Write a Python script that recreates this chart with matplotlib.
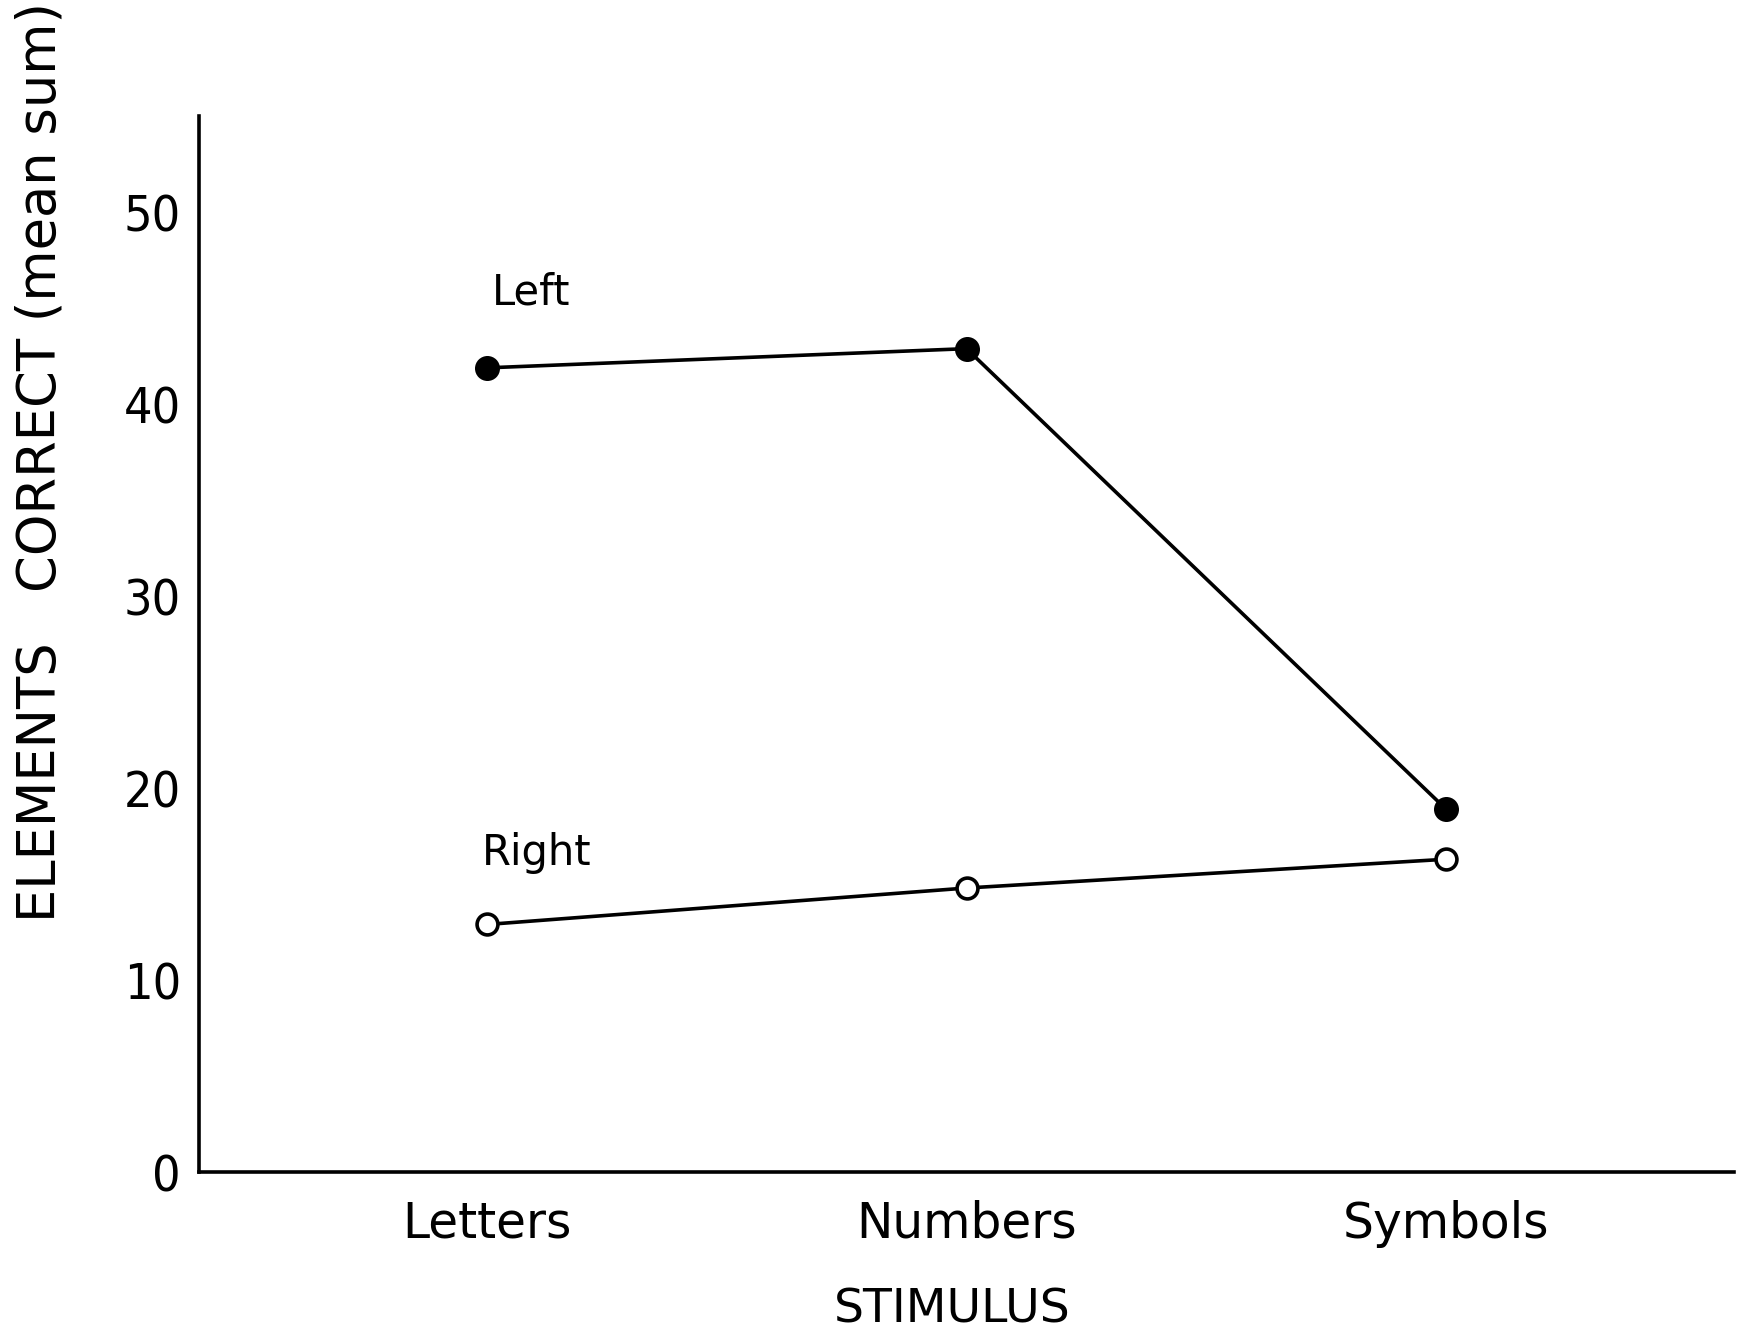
import matplotlib.pyplot as plt

categories = ['Letters', 'Numbers', 'Symbols']
left_vals = [41.9, 42.9, 18.9]
right_vals = [12.9, 14.8, 16.3]
yticks = [0, 10, 20, 30, 40, 50]

fig = plt.figure(figsize=(17.41, 13.38), dpi=100)
ax = fig.add_axes([0.1143, 0.124, 0.8817, 0.789])

x = range(len(categories))
ax.plot(x, left_vals, color='black', lw=2.6, marker='o', ms=16,
        mfc='black', mec='black', mew=2)
ax.plot(x, right_vals, color='black', lw=2.6, marker='o', ms=15,
        mfc='white', mec='black', mew=2.6)

ax.text(0.01, 45.8, 'Left', fontsize=30, ha='left', va='center')
ax.text(-0.01, 16.6, 'Right', fontsize=30, ha='left', va='center')

ax.set_xlim(-0.6, 2.6)
ax.set_ylim(0, 55)
ax.set_xticks(list(x))
ax.set_xticklabels(categories, fontsize=35)
ax.set_yticks(yticks)
ax.set_yticklabels([str(t) for t in yticks], fontsize=36,
                   fontstretch='condensed')
ax.tick_params(axis='both', length=0)
ax.tick_params(axis='y', pad=13)
ax.tick_params(axis='x', pad=20)

for s in ['top', 'right']:
    ax.spines[s].set_visible(False)
for s in ['left', 'bottom']:
    ax.spines[s].set_linewidth(2.6)

fig.text(0.023, 0.655, 'ELEMENTS   CORRECT (mean sum)', rotation=90,
         fontsize=38, ha='center', va='center')
fig.text(0.547, 0.021, 'STIMULUS', fontsize=34, ha='center', va='center')

fig.savefig('out.png', dpi=100)
